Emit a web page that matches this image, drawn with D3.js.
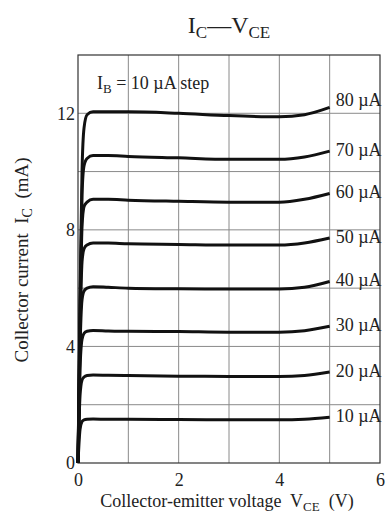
<!DOCTYPE html>
<html>
<head>
	<title>IC - VCE</title>
	<script src="https://cdn.jsdelivr.net/npm/d3@7"></script>
	<style>
		body { margin: 0; background: #fff; }
		text { font-family: "Liberation Serif", "DejaVu Serif", serif; fill: #222; white-space: pre; }
	</style>
</head>
<body>
<script>
	var svgWidth = 385,
	    svgHeight = 527;

	// collector-emitter voltage samples (V)
	var vce = [0, 0.04, 0.08, 0.12, 0.18, 0.3, 0.6, 1, 2, 3, 4, 4.5, 5];

	// base current of each curve (uA)
	var ibSteps = [10, 20, 30, 40, 50, 60, 70, 80];

	// collector current (mA), one array per base current
	var ic10 = [0, 1.15, 1.42, 1.48, 1.50, 1.51, 1.50, 1.50, 1.49, 1.48, 1.48, 1.50, 1.57];
	var ic20 = [0, 2.3, 2.85, 2.95, 3.0, 3.02, 3.01, 3.0, 2.98, 2.97, 2.97, 3.0, 3.12];
	var ic30 = [0, 3.2, 4.25, 4.45, 4.52, 4.55, 4.53, 4.52, 4.51, 4.49, 4.49, 4.54, 4.69];
	var ic40 = [0, 3.9, 5.6, 5.9, 6.0, 6.05, 6.03, 6.0, 5.98, 5.97, 5.97, 6.03, 6.23];
	var ic50 = [0, 4.4, 6.9, 7.35, 7.48, 7.55, 7.55, 7.52, 7.5, 7.48, 7.48, 7.55, 7.72];
	var ic60 = [0, 4.8, 8.1, 8.8, 8.95, 9.05, 9.05, 9.02, 8.98, 8.95, 8.95, 9.05, 9.25];
	var ic70 = [0, 5.2, 9.2, 10.2, 10.45, 10.55, 10.55, 10.52, 10.47, 10.42, 10.42, 10.5, 10.7];
	var ic80 = [0, 5.5, 10.0, 11.5, 11.95, 12.05, 12.05, 12.05, 12.0, 11.92, 11.88, 11.95, 12.2];
	var curves = [ic10, ic20, ic30, ic40, ic50, ic60, ic70, ic80];

	// tick labels
	var xTicks = [0, 2, 4, 6],
	    yTicks = [0, 4, 8, 12];

	var svg = d3.select("body")
		.append("svg")
		.attr("width", svgWidth)
		.attr("height", svgHeight);

	var margin = {top: 55, right: 5, bottom: 64, left: 78},
		width = svgWidth - margin.left - margin.right,
		height = svgHeight - margin.top - margin.bottom;

	var g = svg.append("g")
		.attr("transform", "translate(" + margin.left + "," + margin.top + ")");

	var x = d3.scaleLinear().domain([0, 6]).range([0, width]),
	    y = d3.scaleLinear().domain([0, 14]).range([height, 0]);

	// grid
	g.selectAll(".vgrid")
		.data(d3.range(1, 6))
		.enter().append("line")
		.attr("x1", function(d){ return x(d); })
		.attr("x2", function(d){ return x(d); })
		.attr("y1", 0).attr("y2", height)
		.attr("stroke", "#8a8a8a").attr("stroke-width", 1);

	g.selectAll(".hgrid")
		.data(d3.range(2, 14, 2))
		.enter().append("line")
		.attr("x1", 0).attr("x2", width)
		.attr("y1", function(d){ return y(d); })
		.attr("y2", function(d){ return y(d); })
		.attr("stroke", "#8a8a8a").attr("stroke-width", 1);

	// frame
	g.append("rect")
		.attr("width", width).attr("height", height)
		.attr("fill", "none").attr("stroke", "#333").attr("stroke-width", 1.2);

	// axes (labels only, the grid does the ticks)
	var xAxis = d3.axisBottom(x).tickValues(xTicks).tickFormat(d3.format("d")).tickSize(0).tickPadding(10);
	var yAxis = d3.axisLeft(y).tickValues(yTicks).tickFormat(d3.format("d")).tickSize(0).tickPadding(3);

	g.append("g")
		.attr("transform", "translate(0," + height + ")")
		.call(xAxis)
		.attr("font-family", null).attr("font-size", null)
		.call(function(a){ a.select(".domain").remove(); })
		.selectAll("text").style("font-size", "18px").attr("fill", "#222");

	g.append("g")
		.call(yAxis)
		.attr("font-family", null).attr("font-size", null)
		.call(function(a){ a.select(".domain").remove(); })
		.selectAll("text").style("font-size", "18px").attr("fill", "#222");

	// curves
	var line = d3.line()
		.x(function(d){ return x(d[0]); })
		.y(function(d){ return y(d[1]); })
		.curve(d3.curveMonotoneX);

	curves.forEach(function(ic, i){
		var pts = vce.map(function(v, j){ return [v, ic[j]]; });
		g.append("path")
			.attr("d", line(pts))
			.attr("fill", "none")
			.attr("stroke", "#111")
			.attr("stroke-width", 3)
			.attr("stroke-linejoin", "round");

		var last = ic[ic.length - 1];
		g.append("text")
			.attr("x", x(5) + 6)
			.attr("y", y(last) + (i == curves.length - 1 ? -1 : 5))
			.style("font-size", "18px")
			.text(ibSteps[i] + " \u00b5A");
	});

	// step note
	var note = g.append("text")
		.attr("x", 19).attr("y", 34)
		.style("font-size", "18px");
	note.append("tspan").text("I");
	note.append("tspan").attr("dy", 4).style("font-size", "13px").text("B");
	note.append("tspan").attr("dy", -4).text(" = 10 \u00b5A step");

	// title
	var title = svg.append("text")
		.attr("x", margin.left + width / 2).attr("y", 33)
		.attr("text-anchor", "middle")
		.style("font-size", "24px");
	title.append("tspan").text("I");
	title.append("tspan").attr("dy", 5).style("font-size", "17px").text("C");
	title.append("tspan").attr("dy", -5).text("\u2014V");
	title.append("tspan").attr("dy", 5).style("font-size", "17px").text("CE");

	// x label
	var xl = svg.append("text")
		.attr("x", margin.left + width / 2 - 2).attr("y", 507)
		.attr("text-anchor", "middle")
		.style("font-size", "18px");
	xl.append("tspan").text("Collector-emitter voltage  V");
	xl.append("tspan").attr("dy", 4).style("font-size", "13px").text("CE");
	xl.append("tspan").attr("dy", -4).text("  (V)");

	// y label
	var yl = svg.append("text")
		.attr("transform", "translate(28,260) rotate(-90)")
		.attr("text-anchor", "middle")
		.style("font-size", "19px");
	yl.append("tspan").text("Collector current  I");
	yl.append("tspan").attr("dy", 4).style("font-size", "14px").text("C");
	yl.append("tspan").attr("dy", -4).text("  (mA)");
</script>
</body>
</html>
